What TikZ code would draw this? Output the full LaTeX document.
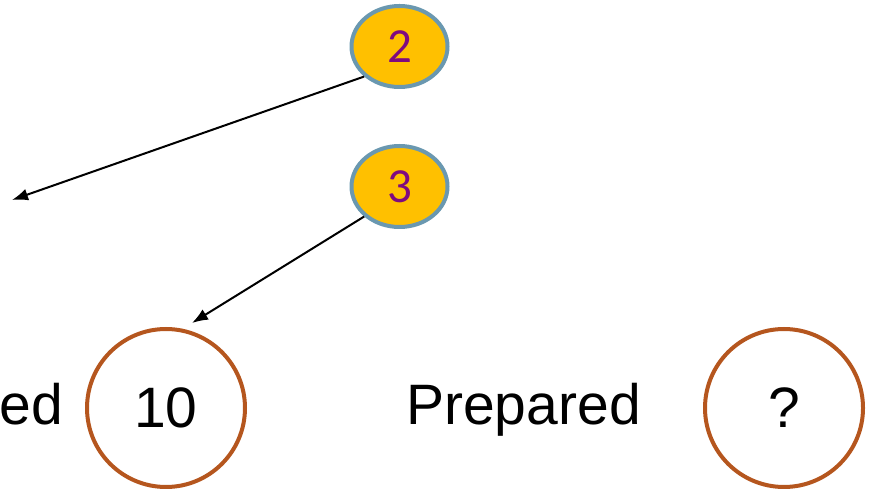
\documentclass[tikz,border=0pt]{standalone}
\usepackage{fontspec}
\setmainfont{Liberation Sans}
\newfontfamily\stepfont{Carlito}
\usetikzlibrary{shapes.geometric}
\usetikzlibrary{arrows.meta}

\definecolor{goldfill}{HTML}{FFC000}
\definecolor{stepblue}{HTML}{6A98B0}
\definecolor{stepnum}{HTML}{7F0A80}
\definecolor{rust}{HTML}{B5561E}

\tikzset{
  stepnode/.style={ellipse, draw=stepblue, line width=4pt, fill=goldfill,
    minimum width=96pt, minimum height=81pt, inner sep=0pt,
    text=stepnum, font=\stepfont\fontsize{49}{49}\selectfont},
  valnode/.style={circle, draw=rust, line width=4pt, minimum size=158pt,
    inner sep=0pt, font=\fontsize{57}{57}\selectfont},
  labnode/.style={inner sep=0pt, font=\fontsize{57}{57}\selectfont},
  msgarrow/.style={line width=2pt, -{Latex[length=16pt,width=12pt]}}
}

\begin{document}
\begin{tikzpicture}[x=1pt, y=1pt]
  \useasboundingbox (0,0) rectangle (874,497);

  \node[stepnode] (two) at (399.5,450.5) {2};
  \node[stepnode] (three) at (399.5,310.5) {3};

  \node[valnode] (ten) at (166,89) {10};
  \node[valnode] (what) at (784,89) {?};

  \node[labnode, anchor=base east] (side) at (63,72) {ed};
  \node[labnode, anchor=base] (prep) at (523.5,72) {Prepared};

  \coordinate (away) at (12,297);
  \coordinate (hit) at (192,174);

  \draw[msgarrow] (two.south west) -- (away);
  \draw[msgarrow] (three.south west) -- (hit);
\end{tikzpicture}
\end{document}
